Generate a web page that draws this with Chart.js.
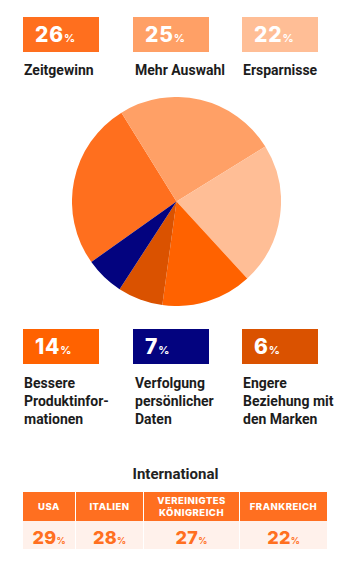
<!DOCTYPE html>
<html><head><meta charset="utf-8">
<script src="https://cdn.jsdelivr.net/npm/chart.js@4.4.1/dist/chart.umd.min.js"></script>
<style>
body{margin:0;background:#fff;width:358px;height:572px;position:relative;overflow:hidden;font-family:Roboto,"Noto Sans",sans-serif;}
.box{position:absolute;width:76px;height:35px;}
.num{position:absolute;left:12px;top:0;line-height:36px;color:#fff;font-family:Inter,Lato,sans-serif;font-weight:800;font-size:21px;letter-spacing:0.8px;}
.num small{font-size:11px;font-weight:700;letter-spacing:0;}
.lab{position:absolute;font-weight:700;font-size:14px;line-height:18px;color:#1c1c1c;width:100px;}
#pieWrap{position:absolute;left:72px;top:97px;width:209px;height:209px;}
#title{position:absolute;left:0;width:351px;top:465px;line-height:18px;text-align:center;font-weight:700;font-size:15px;color:#222;}
#grid{position:absolute;left:23px;top:492px;display:grid;grid-template-columns:52px 67px 95px 87px;column-gap:1px;grid-template-rows:29px 28px;}
.hd{background:#FF6F20;color:#fff;font-family:Inter,Lato,sans-serif;font-weight:800;font-size:9.5px;letter-spacing:0.5px;display:flex;align-items:center;justify-content:center;text-align:center;line-height:12px;}
.bd{background:#FFF1EB;color:#FF6F20;font-family:Inter,Lato,sans-serif;font-weight:800;font-size:18px;letter-spacing:0.3px;display:flex;align-items:baseline;justify-content:center;padding-top:6px;box-sizing:border-box;}
.bd small{font-size:9px;font-weight:700;letter-spacing:0;}
</style></head>
<body>
<div id="boxes"></div>
<div id="pieWrap"><canvas id="pie" width="209" height="209"></canvas></div>
<div id="title">International</div>
<div id="grid"></div>
<script>
// ---- data ----
const categories = ["Zeitgewinn","Mehr Auswahl","Ersparnisse","Bessere Produktinfor-mationen","Verfolgung persönlicher Daten","Engere Beziehung mit den Marken"];
const values = [26,25,22,14,7,6];
const boxColors = ["#FF6F1E","#FFA066","#FFBE96","#FF6200","#03037F","#DA5200"];
// pie as drawn in the reference (slice order clockwise)
const pieLabels = ["Zeitgewinn","Mehr Auswahl","Ersparnisse","Bessere Produktinformationen","Engere Beziehung mit den Marken","Verfolgung persönlicher Daten"];
const pieValues = [26,25,22,14,7,6];
const pieColors = ["#FF6F1E","#FFA066","#FFBE96","#FF6200","#DA5200","#03037F"];
const countries = ["USA","ITALIEN","VEREINIGTES KÖNIGREICH","FRANKREICH"];
const countryValues = [29,28,27,22];

// ---- layout ----
const boxX = [23,133,242];
const boxY = [17,329];
const labelY = [61,374];
const labelLines = [["Zeitgewinn"],["Mehr Auswahl"],["Ersparnisse"],["Bessere","Produktinfor-","mationen"],["Verfolgung","persönlicher","Daten"],["Engere","Beziehung mit","den Marken"]];
const boxesEl = document.getElementById('boxes');
values.forEach((v,i)=>{
  const r = Math.floor(i/3), c = i%3;
  const b = document.createElement('div');
  b.className='box'; b.style.left=boxX[c]+'px'; b.style.top=boxY[r]+'px'; b.style.background=boxColors[i];
  b.innerHTML='<span class="num">'+v+'<small>%</small></span>';
  boxesEl.appendChild(b);
  const l = document.createElement('div');
  l.className='lab'; l.style.left=(boxX[c]+1)+'px'; l.style.top=labelY[r]+'px';
  if(c===1) l.style.left=(boxX[c]+2)+'px';
  l.innerHTML=labelLines[i].join('<br>');
  boxesEl.appendChild(l);
});

const grid = document.getElementById('grid');
countries.forEach(c=>{const d=document.createElement('div');d.className='hd';d.textContent=c;if(c.length>15){d.style.padding='0 14px';}grid.appendChild(d);});
countryValues.forEach(v=>{const d=document.createElement('div');d.className='bd';d.innerHTML=v+'<small>%</small>';grid.appendChild(d);});

new Chart(document.getElementById('pie'),{
  type:'pie',
  data:{labels:pieLabels,datasets:[{data:pieValues,backgroundColor:pieColors,borderWidth:0}]},
  options:{responsive:false,animation:false,rotation:-125.4,layout:{padding:0},
    plugins:{legend:{display:false},tooltip:{enabled:false}}}
});
</script>
</body></html>
